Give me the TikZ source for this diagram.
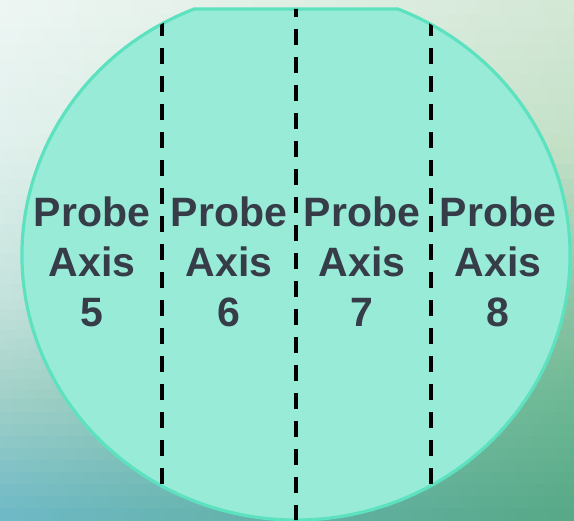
\documentclass[tikz,border=0pt]{standalone}
\usepackage{fontspec}
\setmainfont{Liberation Sans}
\definecolor{bgAL}{HTML}{EEF6F4}
\definecolor{bgAR}{HTML}{D4E8D6}
\definecolor{bgBL}{HTML}{E0F0EC}
\definecolor{bgBR}{HTML}{C2E0C6}
\definecolor{bgCL}{HTML}{C4E2DC}
\definecolor{bgCR}{HTML}{8CC4A4}
\definecolor{bgDL}{HTML}{A0D0C8}
\definecolor{bgDR}{HTML}{6CB894}
\definecolor{bgEL}{HTML}{6CB8C6}
\definecolor{bgER}{HTML}{56A886}
\definecolor{diskfill}{HTML}{97EBD7}
\definecolor{diskline}{HTML}{5DE2C0}
\definecolor{labeltext}{HTML}{363C48}
\tikzset{
  disk/.style={fill=diskfill, draw=diskline, line width=3.2pt},
  divider/.style={draw=black, line width=3.4pt, dash pattern=on 16pt off 12pt},
  probelabel/.style={font=\bfseries\fontsize{41}{50}\selectfont, text=labeltext, align=center, inner sep=0pt, anchor=center}
}
% background band: #1 top y, #2 bottom y, #3 top-left, #4 top-right, #5 bottom-left, #6 bottom-right
\newcommand\bgband[6]{%
  \foreach \i in {0,...,9}{%
    \pgfmathtruncatemacro\pa{95-\i*10}%
    \pgfmathsetmacro\ya{#1-(#1-#2)*\i/10}%
    \pgfmathsetmacro\yb{#1-(#1-#2)*(\i+1)/10-0.6}%
    \shade[left color=#3!\pa!#5, right color=#4!\pa!#6] (0,\ya) rectangle (574,\yb);
  }}
\begin{document}
\begin{tikzpicture}[x=1pt,y=1pt]
\useasboundingbox (0,0) rectangle (574,521);
% background (pixel rows 0,150,300,400,521 from the top)
\bgband{521}{371}{bgAL}{bgAR}{bgBL}{bgBR}
\bgband{371}{221}{bgBL}{bgBR}{bgCL}{bgCR}
\bgband{221}{121}{bgCL}{bgCR}{bgDL}{bgDR}
\bgband{121}{0}{bgDL}{bgDR}{bgEL}{bgER}
% disk (ellipse cut flat at the top)
\path[disk] ({296+274*cos(111.8)},{266+265*sin(111.8)}) arc[start angle=111.8, end angle=428.2, x radius=274, y radius=265] -- cycle;
\begin{scope}
  \clip ({296+274*cos(111.8)},{266+265*sin(111.8)}) arc[start angle=111.8, end angle=428.2, x radius=274, y radius=265] -- cycle;
  \coordinate (d1t) at (162,501); \coordinate (d1b) at (162,0);
  \coordinate (d2t) at (296,520); \coordinate (d2b) at (296,0);
  \coordinate (d3t) at (431,501); \coordinate (d3b) at (431,0);
  \draw[divider] (d1t) -- (d1b);
  \draw[divider] (d2t) -- (d2b);
  \draw[divider] (d3t) -- (d3b);
\end{scope}
% labels
\node[probelabel] (p5) at (92,259) {Probe\\Axis\\5};
\node[probelabel] (p6) at (229,259) {Probe\\Axis\\6};
\node[probelabel] (p7) at (362,259) {Probe\\Axis\\7};
\node[probelabel] (p8) at (498,259) {Probe\\Axis\\8};
\end{tikzpicture}
\end{document}
